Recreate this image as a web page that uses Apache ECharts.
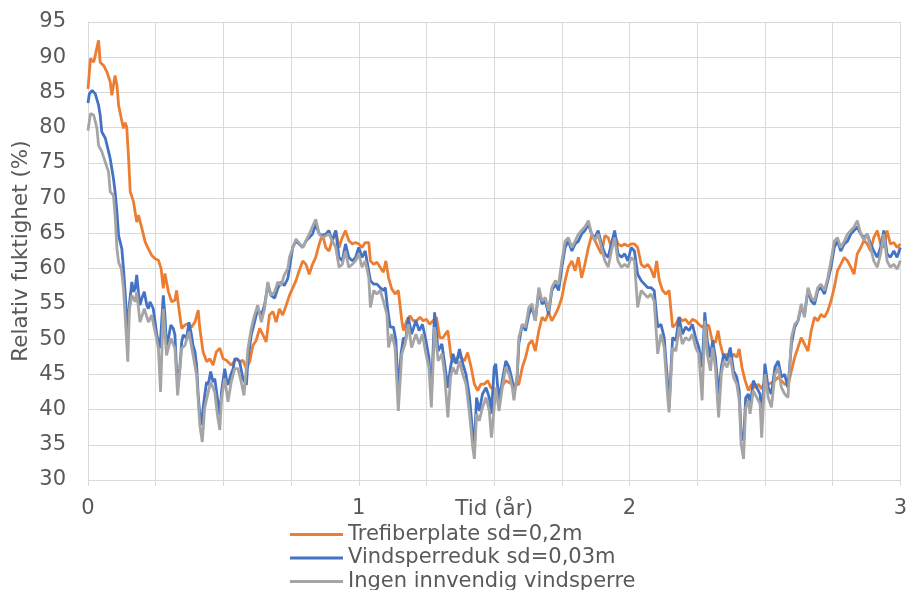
<!DOCTYPE html>
<html>
<head>
<meta charset="utf-8">
<script src="https://cdn.jsdelivr.net/npm/echarts@6/dist/echarts.min.js"></script>
<style>
  html, body { margin: 0; padding: 0; background: #ffffff; }
  #chart { width: 910px; height: 590px; }
</style>
</head>
<body>
<div id="chart"></div>
<script>
// Relative humidity (%) behind three interior wind barriers, three simulated years.

const seriesNames = [
  'Trefiberplate sd=0,2m',
  'Vindsperreduk sd=0,03m',
  'Ingen innvendig vindsperre'
];

const xTickLabels = ['0', '1', '2', '3'];

// Trefiberplate sd=0,2m
const orangeT = [
  0, .009, .021, .027, .039, .045, .058, .070, .082, .088, .100, .107, .113, .123, .131, .137, .143, .150, .156, .168,
  .180, .186, .199, .211, .223, .235, .248, .260, .270, .278, .284, .297, .309, .321, .327, .339, .346, .358, .370, .382,
  .395, .407, .413, .425, .438, .450, .462, .474, .487, .499, .511, .529, .548, .560, .572, .585, .597, .609, .621, .634,
  .646, .658, .670, .683, .695, .707, .719, .732, .744,
  .768, .780, .793, .805, .817, .829, .841, .854, .866, .878, .890, .902, .915, .927, .939, .951, .963, .976, .988, 1.000,
  1.012, 1.024, 1.037, 1.043, 1.055, 1.067, 1.079, 1.091, 1.100, 1.110, 1.122, 1.134, 1.146, 1.159, 1.165, 1.177, 1.189, 1.201, 1.213, 1.226,
  1.238, 1.250, 1.262, 1.274, 1.287, 1.299, 1.311, 1.323, 1.329, 1.341, 1.354, 1.366, 1.378, 1.390, 1.402, 1.415, 1.427, 1.439, 1.451, 1.463,
  1.476, 1.488,
  1.518, 1.543, 1.567, 1.579, 1.591, 1.604, 1.616, 1.628, 1.640, 1.652, 1.665, 1.677, 1.689, 1.701, 1.713, 1.726, 1.738, 1.750, 1.762, 1.774,
  1.787, 1.799, 1.811, 1.823, 1.835, 1.848, 1.860, 1.872, 1.884, 1.896, 1.909, 1.921, 1.933, 1.945, 1.957, 1.970, 1.982, 1.994, 2.006, 2.018,
  2.030, 2.043, 2.055, 2.067, 2.079, 2.091, 2.100, 2.110, 2.122, 2.134, 2.146, 2.159, 2.171, 2.183, 2.195, 2.207, 2.220, 2.232, 2.244,
  2.256, 2.268, 2.280, 2.293, 2.305, 2.317, 2.327, 2.335, 2.348, 2.360, 2.372, 2.384, 2.396, 2.405, 2.415, 2.427, 2.439, 2.451, 2.463, 2.476,
  2.488, 2.500, 2.512, 2.524, 2.537, 2.549, 2.561, 2.573, 2.585, 2.598, 2.610, 2.622, 2.634, 2.646, 2.659, 2.671, 2.683, 2.695, 2.707, 2.720,
  2.732, 2.744, 2.756, 2.768, 2.780, 2.793, 2.805, 2.817, 2.829, 2.841, 2.854, 2.866, 2.878, 2.890, 2.902, 2.915, 2.927, 2.939, 2.951, 2.963,
  2.976, 2.988, 3.000
];
const orangeV = [
  85.5, 89.8, 89.3, 90.3, 92.4, 89.3, 88.8, 87.9, 86.5, 84.6, 87.4, 86.0, 83.2, 81.3, 79.9, 80.7, 80.1, 75.6, 70.9, 69.5,
  66.6, 67.6, 65.7, 63.8, 62.8, 61.9, 61.4, 61.2, 60.0, 57.2, 59.3, 56.7, 55.3, 55.5, 56.9, 53.4, 51.5, 52.0, 52.2, 51.7,
  52.4, 54.1, 51.5, 48.2, 46.8, 47.2, 46.3, 48.2, 48.7, 47.2, 47.0, 46.3, 47.2, 46.8, 47.0, 45.8, 46.8, 49.1, 49.8, 51.5,
  50.6, 49.6, 53.4, 53.9, 52.4, 54.3, 53.4, 54.8, 56.2,
  58.3, 59.7, 61.1, 60.6, 59.2, 60.6, 61.6, 63.5, 64.9, 63.0, 62.5, 64.0, 65.4, 63.0, 64.4, 65.4, 64.0, 63.5, 63.7, 63.5,
  63.0, 63.7, 63.7, 61.1, 60.6, 60.9, 60.2, 59.5, 61.1, 58.7, 57.1, 56.4, 56.9, 52.6, 51.2, 52.6, 53.3, 52.6, 52.6, 53.1,
  52.6, 52.8, 52.1, 52.6, 53.1, 50.2, 50.2, 50.9, 51.2, 47.4, 46.7, 47.4, 47.4, 46.9, 48.1, 46.0, 43.6, 42.7, 43.6, 43.6,
  44.1, 43.1,
  42.7, 44.1, 43.6, 43.4, 43.6, 46.0, 47.4, 49.3, 49.8, 48.3, 51.2, 53.1, 52.6, 53.8, 52.6, 53.5, 54.5, 55.9, 58.3, 60.2,
  61.1, 59.7, 61.6, 58.7, 60.6, 63.0, 64.7, 64.0, 63.0, 62.1, 64.7, 64.4, 63.0, 64.9, 63.5, 63.2, 63.5, 63.2, 63.5, 63.5,
  63.0, 60.6, 60.2, 60.6, 59.9, 58.7, 61.1, 58.3, 56.9, 56.4, 56.9, 51.7, 52.1, 53.1, 52.6, 52.8, 52.1, 52.8, 52.6,
  52.1, 51.7, 52.1, 51.9, 49.8, 49.5, 51.2, 49.3, 47.4, 47.9, 46.9, 47.9, 47.4, 48.6, 46.0, 44.1, 42.7, 43.6, 43.1, 43.6,
  42.9, 44.1, 43.6, 43.8, 44.1, 44.6, 44.1, 43.6, 43.4, 45.5, 47.4, 48.8, 50.2, 49.3, 48.3, 51.2, 53.1, 52.6, 53.5, 53.1,
  54.0, 55.4, 57.3, 59.7, 60.6, 61.6, 61.1, 60.2, 59.2, 62.1, 63.0, 64.0, 63.5, 62.5, 64.4, 65.4, 63.5, 63.0, 65.4, 63.5,
  63.7, 63.0, 63.5
];

// Vindsperreduk sd=0,03m
const blueT = [
  0, .005, .015, .027, .039, .045, .051, .064, .076, .082, .094, .100, .107, .113, .125, .131, .137, .146, .153, .162,
  .168, .174, .180, .186, .192, .199, .208, .217, .223, .229, .235, .241, .248, .254, .260, .266, .272, .278, .284, .290,
  .297, .306, .315, .321, .327, .333, .339, .346, .352, .358, .364, .373, .382, .388, .395, .401, .407, .413, .419, .425,
  .431, .438, .444, .453, .462, .468, .478, .487, .493, .505, .511, .517, .527, .536, .542, .551, .560, .572, .585, .591,
  .603, .615, .627, .640, .652, .664, .676, .689, .701, .713, .725, .738,
  .756, .768, .780, .793, .805, .817, .829, .841, .854, .866, .878, .890, .902, .915, .927, .939, .951, .963, .976, .988,
  1.000, 1.012, 1.024, 1.030, 1.043, 1.055, 1.067, 1.079, 1.091, 1.098, 1.106, 1.116, 1.128, 1.137, 1.146, 1.156, 1.165, 1.173, 1.183, 1.195,
  1.211, 1.223, 1.235, 1.248, 1.259, 1.268, 1.280, 1.293, 1.307, 1.317, 1.329, 1.339, 1.348, 1.360, 1.372, 1.384, 1.396, 1.409, 1.421, 1.427,
  1.435, 1.445, 1.457, 1.470, 1.482, 1.490,
  1.500, 1.506, 1.518, 1.530, 1.543, 1.555, 1.567, 1.573, 1.585, 1.591, 1.604, 1.616, 1.628, 1.640, 1.652, 1.665, 1.677, 1.689, 1.701, 1.713,
  1.726, 1.738, 1.750, 1.762, 1.774, 1.787, 1.799, 1.811, 1.823, 1.835, 1.848, 1.860, 1.872, 1.884, 1.896, 1.909, 1.921, 1.933, 1.945, 1.957,
  1.970, 1.982, 1.994, 2.006, 2.018, 2.030, 2.043, 2.055, 2.067, 2.079, 2.091, 2.104, 2.116, 2.128, 2.140, 2.146, 2.152, 2.159, 2.171, 2.183,
  2.195, 2.207, 2.220, 2.232, 2.244,
  2.256, 2.268, 2.278, 2.287, 2.299, 2.307, 2.317, 2.329, 2.339, 2.348, 2.360, 2.372, 2.384, 2.396, 2.405, 2.412, 2.421, 2.429, 2.439, 2.445,
  2.457, 2.470, 2.482, 2.488, 2.500, 2.512, 2.524, 2.537, 2.549, 2.561, 2.573, 2.585, 2.598, 2.610, 2.622, 2.634, 2.646, 2.659, 2.671, 2.683,
  2.695, 2.707, 2.720, 2.732, 2.744, 2.756, 2.768, 2.780, 2.793, 2.805, 2.817, 2.829, 2.841, 2.854, 2.866, 2.878, 2.890, 2.902, 2.915, 2.927,
  2.939, 2.951, 2.963, 2.976, 2.988, 3.000
];
const blueV = [
  83.5, 84.8, 85.3, 84.8, 83.2, 81.8, 79.4, 78.5, 76.6, 75.6, 72.8, 70.9, 68.0, 64.7, 62.8, 60.0, 56.7, 51.0, 55.0, 58.1,
  56.7, 57.2, 59.1, 56.7, 54.8, 55.8, 56.7, 54.8, 54.3, 55.3, 55.3, 54.3, 52.4, 50.6, 49.6, 48.7, 52.4, 56.2, 53.4, 49.1,
  50.1, 52.0, 51.5, 50.6, 45.8, 43.9, 45.8, 49.6, 50.6, 50.6, 50.1, 52.4, 50.6, 49.1, 48.2, 46.3, 42.0, 39.2, 37.8, 40.2,
  42.0, 43.9, 43.5, 45.4, 43.9, 44.4, 41.6, 39.2, 42.5, 45.8, 44.4, 43.5, 44.9, 45.8, 47.2, 47.2, 46.8, 44.4, 43.5, 47.2,
  50.6, 52.4, 54.3, 53.4, 54.8, 57.6, 56.2, 55.8, 57.2, 58.1, 57.6, 58.6,
  63.0, 63.9, 63.5, 63.0, 63.9, 64.4, 64.9, 66.3, 64.9, 64.7, 64.9, 65.4, 63.9, 65.4, 61.6, 61.1, 63.5, 61.6, 61.1, 61.6,
  63.0, 61.6, 62.5, 61.1, 58.3, 57.8, 57.8, 57.3, 56.9, 57.3, 54.5, 51.7, 51.7, 49.8, 42.2, 47.9, 50.2, 49.8, 53.1, 50.7,
  52.6, 51.2, 52.1, 49.8, 47.4, 42.2, 53.8, 48.3, 49.3, 46.5, 43.1, 46.0, 47.9, 46.5, 48.6, 46.5, 45.0, 41.7, 36.5, 35.0,
  41.7, 39.8, 42.2, 43.1, 41.7, 39.4,
  46.0, 46.5, 40.8, 44.1, 46.9, 46.0, 44.1, 42.2, 44.6, 49.3, 52.1, 51.2, 53.5, 54.5, 52.6, 56.9, 55.0, 55.4, 53.5, 56.9,
  57.8, 56.9, 60.2, 63.0, 63.9, 62.5, 63.5, 63.9, 64.9, 65.4, 66.3, 64.9, 64.4, 65.4, 63.5, 62.1, 61.6, 63.5, 65.4, 62.1,
  61.6, 62.1, 61.1, 63.0, 62.5, 59.2, 58.3, 57.8, 57.3, 57.3, 56.9, 51.7, 52.1, 50.2, 44.1, 40.3, 45.0, 50.2, 49.8, 53.1,
  50.7, 51.7, 51.2, 52.1, 50.2,
  48.8, 46.0, 53.8, 49.8, 47.4, 49.8, 47.4, 42.2, 46.0, 47.9, 46.9, 48.8, 45.5, 44.6, 42.7, 36.5, 35.6, 41.7, 42.2, 40.3,
  44.1, 43.1, 42.2, 38.4, 46.5, 43.1, 42.2, 46.0, 46.9, 44.6, 45.0, 43.1, 49.3, 51.7, 52.6, 54.5, 53.5, 56.9, 55.4, 54.9,
  56.9, 57.3, 56.4, 58.3, 60.2, 63.0, 63.9, 62.5, 63.5, 63.9, 64.9, 65.4, 65.9, 64.9, 64.4, 64.9, 63.5, 62.5, 61.6, 63.0,
  65.4, 62.1, 61.6, 62.5, 61.6, 63.0
];

// Ingen innvendig vindsperre
const grayT = [
  0, .009, .021, .033, .039, .051, .064, .076, .082, .094, .100, .107, .113, .123, .131, .137, .147, .153, .162, .174,
  .180, .192, .208, .223, .235, .248, .260, .268, .278, .290, .306, .321, .331, .346, .358, .373, .388, .401, .413, .422,
  .431, .444, .453, .468, .478, .487, .493, .505, .517, .529, .542, .554, .566, .576, .591, .603, .615, .627, .640, .652,
  .664, .676, .689, .701, .713, .725, .738,
  .744, .768, .793, .817, .841, .854, .866, .890, .915, .927, .939, .951, .963, .976, .988, 1.000, 1.012, 1.024, 1.037, 1.043,
  1.055, 1.067, 1.079, 1.091, 1.104, 1.110, 1.122, 1.134, 1.146, 1.159, 1.171, 1.183, 1.195, 1.211, 1.223, 1.235, 1.248, 1.259, 1.268, 1.280,
  1.293, 1.307, 1.317, 1.329, 1.339, 1.348, 1.360, 1.372, 1.384, 1.396, 1.409, 1.421, 1.427, 1.435, 1.445, 1.457, 1.470, 1.482, 1.490,
  1.494, 1.506, 1.518, 1.530, 1.543, 1.555, 1.567, 1.573, 1.585, 1.591, 1.604, 1.616, 1.628, 1.640, 1.652, 1.665, 1.677, 1.689, 1.701, 1.713,
  1.726, 1.738, 1.750, 1.762, 1.774, 1.787, 1.799, 1.811, 1.823, 1.835, 1.848, 1.860, 1.872, 1.884, 1.896, 1.909, 1.921, 1.933, 1.945, 1.957,
  1.970, 1.982, 1.994, 2.006, 2.018, 2.030, 2.043, 2.055, 2.067, 2.079, 2.091, 2.104, 2.116, 2.128, 2.140, 2.146, 2.152, 2.159, 2.171, 2.183,
  2.195, 2.207, 2.220, 2.232, 2.244,
  2.256, 2.268, 2.278, 2.287, 2.299, 2.307, 2.317, 2.329, 2.339, 2.348, 2.360, 2.372, 2.384, 2.396, 2.405, 2.412, 2.421, 2.429, 2.439, 2.445,
  2.457, 2.470, 2.482, 2.488, 2.500, 2.512, 2.524, 2.537, 2.549, 2.561, 2.573, 2.585, 2.598, 2.610, 2.622, 2.634, 2.646, 2.659, 2.671, 2.683,
  2.695, 2.707, 2.720, 2.732, 2.744, 2.756, 2.768, 2.780, 2.793, 2.805, 2.817, 2.829, 2.841, 2.854, 2.866, 2.878, 2.890, 2.902, 2.915, 2.927,
  2.939, 2.951, 2.963, 2.976, 2.988, 3.000
];
const grayV = [
  79.6, 82.0, 81.8, 79.9, 77.5, 76.6, 75.1, 73.7, 70.9, 70.4, 67.6, 62.8, 60.9, 60.0, 57.2, 53.4, 46.8, 54.3, 56.2, 55.3,
  56.7, 52.4, 54.3, 52.4, 53.4, 51.0, 48.7, 42.5, 54.3, 47.7, 50.1, 48.7, 42.0, 48.7, 49.1, 51.0, 47.7, 44.9, 37.8, 35.4,
  40.2, 42.5, 43.9, 42.5, 39.2, 37.1, 41.6, 44.4, 41.1, 43.9, 45.8, 45.8, 43.9, 42.0, 48.7, 51.5, 53.4, 54.8, 52.4, 54.3,
  58.1, 56.2, 56.7, 58.1, 57.6, 59.1, 60.0,
  61.6, 64.2, 63.0, 64.9, 67.0, 64.9, 64.4, 64.9, 63.0, 60.2, 60.6, 62.5, 60.2, 60.6, 61.1, 62.1, 60.2, 61.1, 58.7, 54.5,
  56.9, 56.4, 56.9, 55.4, 53.5, 48.8, 50.7, 48.8, 39.8, 47.9, 49.3, 52.1, 48.8, 50.7, 49.3, 50.7, 47.9, 46.0, 40.3, 51.7,
  46.9, 47.9, 45.0, 38.9, 44.6, 46.0, 45.0, 46.9, 45.0, 43.6, 39.4, 34.6, 33.0, 39.4, 38.4, 40.3, 41.7, 39.8, 36.0,
  37.5, 43.1, 39.8, 43.1, 46.0, 45.0, 43.1, 41.3, 45.0, 50.2, 52.1, 51.7, 54.5, 55.0, 52.6, 57.3, 55.4, 55.9, 54.0, 57.3,
  58.3, 57.8, 61.1, 63.9, 64.4, 63.0, 63.9, 64.9, 65.4, 65.9, 66.8, 64.9, 64.0, 64.9, 63.0, 61.1, 60.2, 62.5, 64.4, 61.1,
  60.2, 60.6, 60.2, 61.6, 61.1, 54.5, 56.9, 56.4, 55.9, 56.4, 55.4, 47.9, 50.7, 48.8, 42.2, 39.6, 44.1, 48.8, 48.3, 51.7,
  49.3, 50.2, 49.8, 50.7, 48.8,
  47.9, 41.3, 52.6, 47.9, 45.5, 48.8, 46.0, 38.9, 45.0, 46.9, 46.0, 47.4, 44.6, 43.6, 41.3, 35.1, 33.0, 40.3, 41.3, 39.4,
  42.7, 41.7, 40.8, 36.0, 45.0, 41.7, 40.3, 45.0, 46.0, 43.1, 42.2, 41.7, 50.2, 52.1, 52.6, 55.0, 53.1, 57.3, 55.9, 55.4,
  57.3, 57.8, 56.9, 58.7, 61.1, 63.9, 64.4, 63.0, 63.9, 64.9, 65.4, 65.9, 66.8, 64.9, 64.0, 64.9, 63.0, 61.1, 60.2, 62.1,
  64.9, 61.1, 60.2, 60.6, 59.9, 61.1
];

const colors = ['#ED7D31', '#4472C4', '#A5A5A5'];

function pairs(ts, vs) {
  return ts.map((t, i) => [t, vs[i]]);
}

const FONT = "'DejaVu Sans', Verdana, sans-serif";
const TEXT = '#595959';
const GRID = '#D9D9D9';

const chart = echarts.init(document.getElementById('chart'), null, { renderer: 'canvas' });

chart.setOption({
  animation: false,
  backgroundColor: '#ffffff',
  color: colors,
  textStyle: { fontFamily: FONT },
  grid: { left: 88, right: 4, top: 22, bottom: 110 },
  legend: {
    orient: 'vertical',
    left: 290,
    top: 524,
    width: 420,
    height: 120,
    icon: 'rect',
    itemWidth: 53,
    itemHeight: 3,
    itemGap: 2.5,
    padding: 0,
    textStyle: { fontSize: 21, color: TEXT, fontFamily: FONT, lineHeight: 21 },
    data: seriesNames
  },
  xAxis: {
    type: 'value',
    min: 0,
    max: 3,
    interval: 0.25,
    name: 'Tid (år)',
    nameLocation: 'middle',
    nameGap: 18,
    nameMoveOverlap: false,
    nameTextStyle: { fontSize: 21.5, color: TEXT, fontFamily: FONT, verticalAlign: 'top' },
    axisLine: { show: true, lineStyle: { color: GRID, width: 1 } },
    axisTick: { show: true, length: 6, lineStyle: { color: GRID, width: 1 } },
    axisLabel: {
      fontSize: 21,
      color: TEXT,
      margin: 18,
      formatter: v => (Number.isInteger(v) ? xTickLabels[v] : '')
    },
    splitLine: { show: true, lineStyle: { color: GRID, width: 1 } }
  },
  yAxis: {
    type: 'value',
    min: 30,
    max: 95,
    interval: 5,
    name: 'Relativ fuktighet (%)',
    nameLocation: 'middle',
    nameGap: 56,
    nameMoveOverlap: false,
    nameTextStyle: { fontSize: 21.5, color: TEXT, fontFamily: FONT },
    axisLine: { show: true, lineStyle: { color: GRID, width: 1 } },
    axisTick: { show: false },
    axisLabel: { fontSize: 21, color: TEXT, margin: 2, padding: [0, 20, 0, 0] },
    splitLine: { show: true, lineStyle: { color: GRID, width: 1 } }
  },
  series: [
    { name: seriesNames[0], type: 'line', data: pairs(orangeT, orangeV) },
    { name: seriesNames[1], type: 'line', data: pairs(blueT, blueV) },
    { name: seriesNames[2], type: 'line', data: pairs(grayT, grayV) }
  ].map((s, i) => Object.assign(s, {
    symbol: 'none',
    showSymbol: false,
    z: 2 + i,
    lineStyle: { width: 2.8, color: colors[i] },
    itemStyle: { color: colors[i] }
  }))
});
</script>
</body>
</html>
